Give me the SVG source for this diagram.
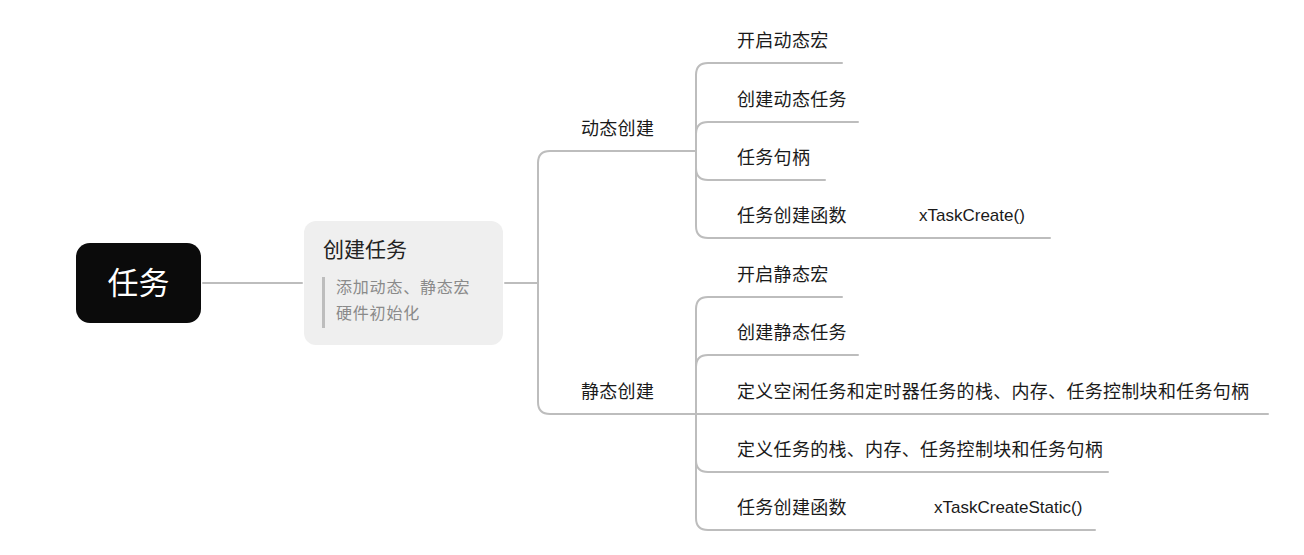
<svg xmlns="http://www.w3.org/2000/svg" width="1304" height="555" viewBox="0 0 1304 555">
<style>
.cn{font-family:"Noto Sans CJK SC","Noto Sans",sans-serif;}
.lbl{font-size:18px;fill:#1a1a1a;letter-spacing:0.3px;}
.lat{font-family:"Liberation Sans",Arial,sans-serif;font-size:17px;fill:#1a1a1a;}
.ln{fill:none;stroke:#bdbdbd;stroke-width:2;stroke-linecap:round;}
</style>
<rect width="1304" height="555" fill="#ffffff"/>
<g id="connectors">
<path class="ln" d="M203 283 H302"/>
<path class="ln" d="M505 283 H538 V163 Q538 151 550 151 H696"/>
<path class="ln" d="M538 283 V402 Q538 414 550 414 H696"/>
<path class="ln" d="M696 151 V75 Q696 63 708 63 H842"/>
<path class="ln" d="M696 151 V134 Q696 122 708 122 H858"/>
<path class="ln" d="M696 151 V168 Q696 180 708 180 H825"/>
<path class="ln" d="M696 151 V226 Q696 238 708 238 H1050"/>
<path class="ln" d="M696 414 V309 Q696 297 708 297 H842"/>
<path class="ln" d="M696 414 V367 Q696 355 708 355 H858"/>
<path class="ln" d="M696 414 H1268"/>
<path class="ln" d="M696 414 V460 Q696 472 708 472 H1108"/>
<path class="ln" d="M696 414 V518 Q696 530 708 530 H1095"/>
</g>
<g id="root">
<rect x="76" y="243" width="125" height="80" rx="14" fill="#0b0b0b"/>
<text x="138.5" y="294" class="cn" font-size="31" fill="#ffffff" text-anchor="middle">任务</text>
</g>
<g id="node-create">
<rect x="304" y="221" width="199" height="124" rx="12" fill="#efefef"/>
<text x="323" y="257" class="cn" font-size="21" fill="#222222">创建任务</text>
<rect x="322" y="277" width="3" height="51" fill="#bdbdbd"/>
<text x="336" y="293" class="cn" font-size="16" fill="#8a8a8a" letter-spacing="0.8">添加动态、静态宏</text>
<text x="336" y="319" class="cn" font-size="16" fill="#8a8a8a" letter-spacing="0.8">硬件初始化</text>
</g>
<g id="dyn"><text x="581" y="135" class="cn lbl">动态创建</text></g>
<g id="dyn-1"><text x="737" y="47" class="cn lbl">开启动态宏</text></g>
<g id="dyn-2"><text x="737" y="106" class="cn lbl">创建动态任务</text></g>
<g id="dyn-3"><text x="737" y="164" class="cn lbl">任务句柄</text></g>
<g id="dyn-4"><text x="737" y="222" class="cn lbl">任务创建函数</text><text x="919" y="221" class="lat">xTaskCreate()</text></g>
<g id="sta"><text x="581" y="398" class="cn lbl">静态创建</text></g>
<g id="sta-1"><text x="737" y="281" class="cn lbl">开启静态宏</text></g>
<g id="sta-2"><text x="737" y="339" class="cn lbl">创建静态任务</text></g>
<g id="sta-3"><text x="737" y="398" class="cn lbl">定义空闲任务和定时器任务的栈、内存、任务控制块和任务句柄</text></g>
<g id="sta-4"><text x="737" y="456" class="cn lbl">定义任务的栈、内存、任务控制块和任务句柄</text></g>
<g id="sta-5"><text x="737" y="514" class="cn lbl">任务创建函数</text><text x="934" y="513" class="lat">xTaskCreateStatic()</text></g>
</svg>
